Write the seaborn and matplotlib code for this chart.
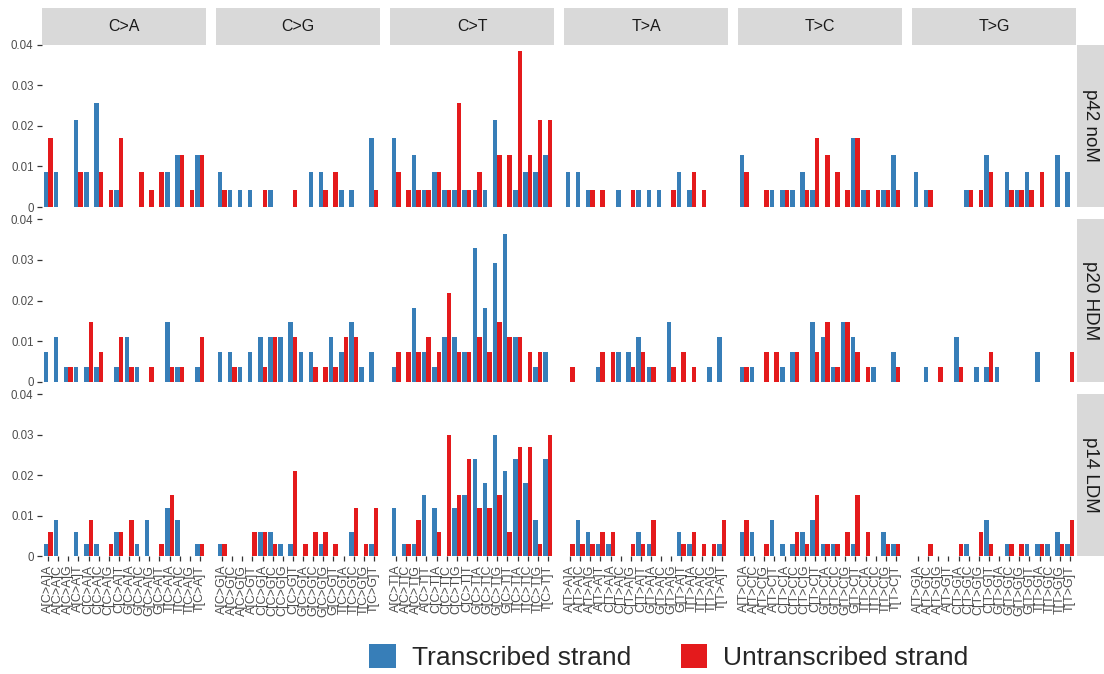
import matplotlib
matplotlib.use("Agg")
import matplotlib.pyplot as plt
import pandas as pd
import seaborn as sns
from matplotlib.patches import Patch

# ---------------- data ----------------
mutation_types = ["C>A", "C>G", "C>T", "T>A", "T>C", "T>G"]
bases = ["A", "C", "G", "T"]
samples = ["p42 noM", "p20 HDM", "p14 LDM"]
strands = ["Transcribed strand", "Untranscribed strand"]
strand_colors = ["#377EB8", "#E41A1C"]

# mutation counts per trinucleotide context (A[X]A, A[X]C, ..., T[X]T) for each type
p42_noM_transcribed = [
    2, 2, 0, 5, 2, 6, 0, 1, 0, 0, 0, 0, 2, 3, 0, 3,   # C>A
    2, 1, 1, 1, 0, 1, 0, 0, 0, 2, 2, 0, 1, 1, 0, 4,   # C>G
    4, 0, 3, 1, 2, 1, 1, 1, 1, 1, 5, 0, 1, 2, 2, 3,   # C>T
    2, 2, 1, 0, 0, 1, 0, 1, 1, 1, 0, 2, 1, 0, 0, 0,   # T>A
    3, 0, 0, 1, 1, 1, 2, 1, 0, 0, 0, 4, 1, 0, 1, 3,   # T>C
    2, 1, 0, 0, 0, 1, 0, 3, 0, 2, 1, 2, 0, 0, 3, 2,   # T>G
]
p42_noM_untranscribed = [
    4, 0, 0, 2, 0, 2, 1, 4, 0, 2, 1, 2, 0, 3, 1, 3,
    1, 0, 0, 0, 1, 0, 0, 1, 0, 0, 1, 2, 0, 0, 0, 1,
    2, 1, 1, 1, 2, 1, 6, 1, 2, 0, 3, 3, 9, 3, 5, 5,
    0, 0, 1, 1, 0, 0, 1, 0, 0, 0, 1, 0, 2, 1, 0, 0,
    2, 0, 1, 0, 1, 0, 1, 4, 3, 2, 1, 4, 1, 1, 1, 1,
    0, 1, 0, 0, 0, 1, 1, 2, 0, 1, 1, 1, 2, 0, 0, 0,
]
p20_HDM_transcribed = [
    2, 3, 1, 1, 1, 1, 0, 1, 3, 1, 0, 0, 4, 1, 0, 1,
    2, 2, 1, 2, 3, 3, 3, 4, 2, 2, 0, 3, 2, 4, 1, 2,
    1, 0, 5, 2, 1, 3, 3, 2, 9, 5, 8, 10, 3, 0, 1, 2,
    0, 0, 0, 1, 0, 2, 2, 3, 1, 0, 4, 0, 0, 0, 1, 3,
    1, 1, 0, 0, 1, 2, 0, 4, 3, 1, 4, 3, 0, 1, 0, 2,
    0, 1, 0, 0, 3, 0, 1, 1, 1, 0, 0, 0, 2, 0, 0, 0,
]
p20_HDM_untranscribed = [
    0, 0, 1, 0, 4, 2, 0, 3, 1, 0, 1, 0, 1, 1, 0, 3,
    0, 1, 0, 0, 1, 3, 0, 3, 0, 1, 1, 1, 3, 3, 0, 0,
    2, 2, 2, 3, 2, 6, 2, 2, 3, 2, 4, 3, 3, 2, 2, 0,
    1, 0, 0, 2, 2, 0, 1, 2, 1, 0, 1, 2, 1, 0, 0, 0,
    1, 0, 2, 2, 0, 2, 0, 2, 4, 1, 4, 2, 1, 0, 0, 1,
    0, 0, 1, 0, 1, 0, 0, 2, 0, 0, 0, 0, 0, 0, 0, 2,
]
p14_LDM_transcribed = [
    1, 3, 0, 2, 1, 1, 0, 2, 0, 1, 3, 0, 4, 3, 0, 1,
    1, 0, 0, 0, 2, 2, 1, 1, 0, 0, 1, 0, 0, 2, 0, 1,
    4, 1, 1, 5, 4, 0, 4, 5, 8, 6, 10, 7, 8, 6, 3, 8,
    0, 3, 2, 1, 1, 0, 0, 2, 1, 0, 0, 2, 1, 0, 0, 1,
    2, 2, 0, 3, 1, 1, 2, 3, 1, 1, 0, 1, 0, 0, 2, 1,
    0, 0, 0, 0, 0, 1, 0, 3, 0, 1, 0, 1, 1, 1, 2, 1,
]
p14_LDM_untranscribed = [
    2, 0, 0, 0, 3, 0, 1, 2, 3, 0, 0, 1, 5, 0, 0, 1,
    1, 0, 0, 2, 2, 1, 0, 7, 1, 2, 2, 1, 0, 4, 1, 4,
    0, 1, 3, 0, 2, 10, 5, 8, 4, 4, 5, 2, 9, 9, 1, 10,
    1, 1, 1, 2, 2, 0, 1, 1, 3, 0, 0, 1, 2, 1, 1, 3,
    3, 0, 1, 0, 0, 2, 1, 5, 1, 1, 2, 5, 2, 0, 1, 1,
    0, 1, 0, 0, 1, 0, 2, 1, 0, 1, 1, 0, 1, 0, 1, 3,
]
sample_totals = [234, 274, 333]

y_ticks = [0, 0.01, 0.02, 0.03, 0.04]
y_tick_labels = ["0", "0.01", "0.02", "0.03", "0.04"]

counts = {
    ("p42 noM", strands[0]): p42_noM_transcribed,
    ("p42 noM", strands[1]): p42_noM_untranscribed,
    ("p20 HDM", strands[0]): p20_HDM_transcribed,
    ("p20 HDM", strands[1]): p20_HDM_untranscribed,
    ("p14 LDM", strands[0]): p14_LDM_transcribed,
    ("p14 LDM", strands[1]): p14_LDM_untranscribed,
}

rows = []
for s_i, sample in enumerate(samples):
    for strand in strands:
        vals = counts[(sample, strand)]
        k = 0
        for mt in mutation_types:
            for a in bases:
                for b in bases:
                    rows.append(dict(sample=sample, mtype=mt,
                                     context=f"{a}[{mt}]{b}", strand=strand,
                                     fraction=vals[k] / sample_totals[s_i]))
                    k += 1
df = pd.DataFrame(rows)

# ---------------- style ----------------
sns.set_theme(style="white")
plt.rcParams["font.family"] = ["Liberation Sans", "DejaVu Sans"]

W, H = 1104, 674
fig = plt.figure(figsize=(W / 100, H / 100), dpi=100)


def rect(x0, y0, w, h):
    return [x0 / W, 1 - (y0 + h) / H, w / W, h / H]


col_left = [42 + 174 * i for i in range(6)]
panel_w = 164
row_top = [44.7, 219.4, 394.1]
panel_h = 162.3
strip_bg = "#D9D9D9"

for r, sample in enumerate(samples):
    for c, mt in enumerate(mutation_types):
        ax = fig.add_axes(rect(col_left[c], row_top[r], panel_w, panel_h))
        sub = df[(df["sample"] == sample) & (df["mtype"] == mt)]
        order = [f"{a}[{mt}]{b}" for a in bases for b in bases]
        sns.barplot(data=sub, x="context", y="fraction", hue="strand",
                    order=order, hue_order=strands, palette=strand_colors,
                    saturation=1, width=0.9, gap=0, errorbar=None,
                    linewidth=0, edgecolor="none",
                    legend=False, ax=ax)
        ax.set_xlim(-0.6, 15.6)
        ax.set_ylim(0, 0.04)
        ax.set_xlabel("")
        ax.set_ylabel("")
        for sp in ax.spines.values():
            sp.set_visible(False)
        ax.set_facecolor("white")
        ax.set_yticks(y_ticks)
        if c == 0:
            ax.set_yticklabels(y_tick_labels)
            ax.tick_params(axis="y", left=True, length=3.6, width=0.9,
                           color="#333333", pad=2.5, labelsize=8.3,
                           labelcolor="#4D4D4D")
        else:
            ax.tick_params(axis="y", left=False, labelleft=False)
        if r == 2:
            ax.set_xticks(range(16))
            ax.set_xticklabels(order, rotation=90)
            ax.tick_params(axis="x", bottom=True, length=3.6, width=0.9,
                           color="#333333", pad=2.5, labelsize=9,
                           labelcolor="#4D4D4D")
        else:
            ax.tick_params(axis="x", bottom=False, labelbottom=False)

        # column strip
        if r == 0:
            sax = fig.add_axes(rect(col_left[c], 8, panel_w, 36.7))
            sax.set_facecolor(strip_bg)
            sax.set_xticks([]); sax.set_yticks([])
            for sp in sax.spines.values():
                sp.set_visible(False)
            sax.text(0.5, 0.5, mt, ha="center", va="center",
                     fontsize=11.5, color="#1A1A1A", transform=sax.transAxes)
    # row strip
    rax = fig.add_axes(rect(1077, row_top[r], 27, panel_h))
    rax.set_facecolor(strip_bg)
    rax.set_xticks([]); rax.set_yticks([])
    for sp in rax.spines.values():
        sp.set_visible(False)
    rax.text(0.5, 0.5, sample, ha="center", va="center", rotation=270,
             fontsize=13.5, color="#1A1A1A", transform=rax.transAxes)

handles = [Patch(facecolor=strand_colors[0], edgecolor="none"),
           Patch(facecolor=strand_colors[1], edgecolor="none")]
fig.legend(handles, strands, loc="center",
           bbox_to_anchor=(669 / W, 1 - 657 / H), ncol=2, frameon=False,
           fontsize=19, handlelength=1.0, handleheight=1.0,
           handletextpad=0.6, columnspacing=1.9)

fig.savefig("out.png", dpi=100)
